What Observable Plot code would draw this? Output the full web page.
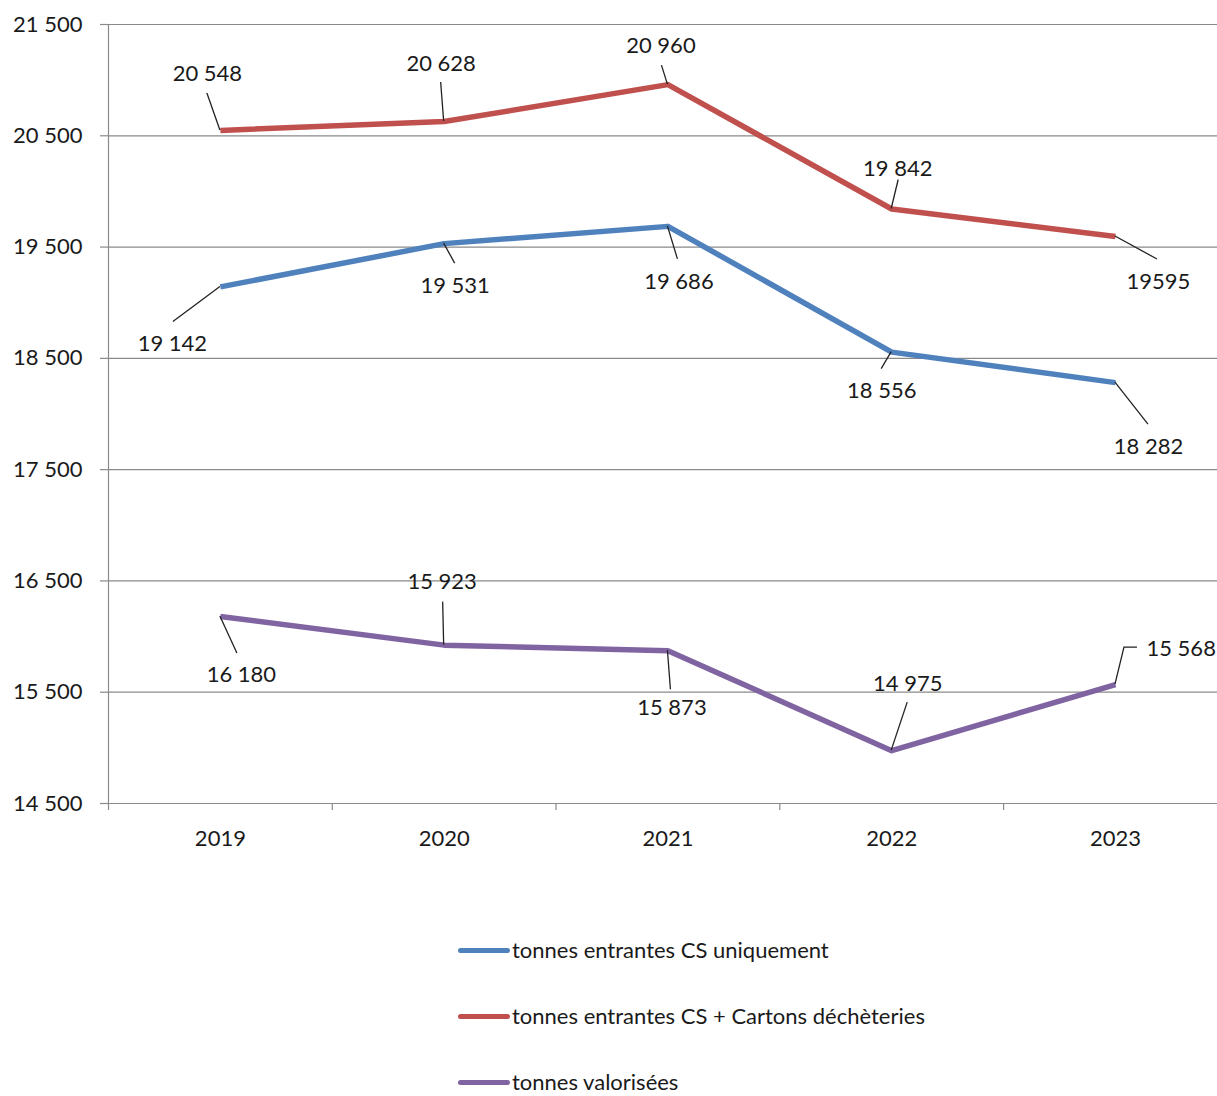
<!DOCTYPE html>
<html>
<head>
<meta charset="utf-8">
<script src="https://cdn.jsdelivr.net/npm/d3@7"></script>
<script src="https://cdn.jsdelivr.net/npm/@observablehq/plot@0.6"></script>
<style>
  html, body { margin: 0; padding: 0; background: #fff; }
  body { width: 1217px; height: 1096px; overflow: hidden; font-family: Lato, "Open Sans", sans-serif; }
  #chart svg { display: block; }
  .legend { margin-top: 47px; padding-left: 458px; }
  .legend .item { height: 66px; display: flex; align-items: center; font-size: 22px; line-height: 1.1; color: #1a1a1a; }
  .legend .sw { width: 52px; height: 5px; border-radius: 3px; margin-right: 2px; }
</style>
</head>
<body>
<div id="chart"></div>
<div class="legend" id="legend"></div>
<script>
// ---- data ----
const years = [2019, 2020, 2021, 2022, 2023];
const seriesNames = [
  "tonnes entrantes CS uniquement",
  "tonnes entrantes CS + Cartons déchèteries",
  "tonnes valorisées"
];
const csUniquement = [19142, 19531, 19686, 18556, 18282];
const csCartons = [20548, 20628, 20960, 19842, 19595];
const valorisees = [16180, 15923, 15873, 14975, 15568];
const csUniquementLabels = ["19 142", "19 531", "19 686", "18 556", "18 282"];
const csCartonsLabels = ["20 548", "20 628", "20 960", "19 842", "19595"];
const valoriseesLabels = ["16 180", "15 923", "15 873", "14 975", "15 568"];
const yTicks = [14500, 15500, 16500, 17500, 18500, 19500, 20500, 21500];
const xBoundaries = [2018.5, 2019.5, 2020.5, 2021.5, 2022.5];

// ---- layout (pixel offsets of leader path & label from each point) ----
const layoutCS = [
  {leader: [[-47, 35]], text: [-48, 57]},
  {leader: [[11, 20]], text: [11, 42]},
  {leader: [[10, 33]], text: [11, 56]},
  {leader: [[-10, 17]], text: [-10, 39]},
  {leader: [[33, 42]], text: [33, 64]}
];
const layoutCartons = [
  {leader: [[-13, -37]], text: [-13, -56]},
  {leader: [[-3, -39]], text: [-3, -58]},
  {leader: [[-6, -19]], text: [-7, -39]},
  {leader: [[7, -29]], text: [6, -40]},
  {leader: [[42, 23]], text: [43, 45]}
];
const layoutVal = [
  {leader: [[17, 37]], text: [21, 58]},
  {leader: [[-1, -43]], text: [-2, -63]},
  {leader: [[3, 39]], text: [4, 57]},
  {leader: [[16, -48]], text: [16, -67]},
  {leader: [[9, -37], [22, -37]], text: [31, -36], anchor: "start"}
];
const colors = ["#4F81BD", "#C0504D", "#8064A2"];

const series = [
  {name: seriesNames[0], values: csUniquement, labels: csUniquementLabels, layout: layoutCS},
  {name: seriesNames[1], values: csCartons, labels: csCartonsLabels, layout: layoutCartons},
  {name: seriesNames[2], values: valorisees, labels: valoriseesLabels, layout: layoutVal}
];
const rows = series.flatMap(s => years.map((y, i) => ({
  series: s.name, year: y, value: s.values[i], label: s.labels[i], lay: s.layout[i]
})));

const fmt = d => String(d).replace(/\B(?=(\d{3})+(?!\d))/g, " ");
const gridColor = "#8a8a8a";
const textColor = "#1a1a1a";

function leaders(index, scales) {
  const g = d3.create("svg:g")
    .attr("fill", "none").attr("stroke", "#222").attr("stroke-width", 1.3);
  for (const r of rows) {
    const px = scales.x(r.year), py = scales.y(r.value);
    const pts = [[px, py], ...r.lay.leader.map(([dx, dy]) => [px + dx, py + dy])];
    g.append("path").attr("d", d3.line()(pts));
  }
  return g.node();
}

const labelMarks = rows.map(r => Plot.text([r], {
  x: "year", y: "value", text: "label",
  dx: r.lay.text[0], dy: r.lay.text[1],
  textAnchor: r.lay.anchor || "middle",
  fontSize: 22, fill: textColor
}));

const chart = Plot.plot({
  width: 1217,
  height: 870,
  marginLeft: 108,
  marginRight: 0,
  marginTop: 24,
  marginBottom: 67,
  style: {fontFamily: "Lato, 'Open Sans', sans-serif", background: "#fff"},
  x: {domain: [2018.5, 2023.456], axis: null, label: null},
  y: {domain: [14500, 21500], axis: null, label: null},
  color: {domain: seriesNames, range: colors},
  marks: [
    Plot.gridY(yTicks, {stroke: gridColor, strokeOpacity: 1, strokeWidth: 1.2}),
    Plot.ruleX([2018.5], {stroke: gridColor, strokeWidth: 1.2}),
    Plot.axisY(yTicks, {tickSize: 8, tickPadding: 18, tickFormat: fmt, fontSize: 22, label: null,
      stroke: gridColor, fill: textColor, strokeWidth: 1.2}),
    Plot.axisX(xBoundaries, {tickSize: 7, tickFormat: () => "", label: null, stroke: gridColor, strokeWidth: 1.2}),
    Plot.axisX(years, {tickSize: 0, tickPadding: 27, tickFormat: d => String(d), fontSize: 22, label: null, fill: textColor}),
    Plot.line(rows, {x: "year", y: "value", z: "series", stroke: "series",
      strokeWidth: 5.5, strokeLinejoin: "round", strokeLinecap: "butt"}),
    leaders,
    ...labelMarks
  ]
});
document.getElementById("chart").appendChild(chart);

const legend = d3.select("#legend");
seriesNames.forEach((n, i) => {
  const it = legend.append("div").attr("class", "item");
  it.append("div").attr("class", "sw").style("background", colors[i]);
  it.append("span").text(n);
});
</script>
</body>
</html>
